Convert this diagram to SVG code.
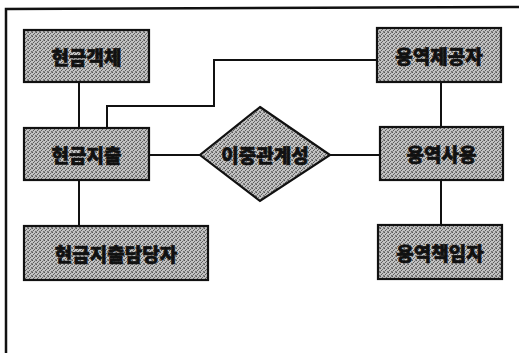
<svg xmlns="http://www.w3.org/2000/svg" width="519" height="356" viewBox="0 0 519 356">
<defs>
<pattern id="stip" width="4" height="4" patternUnits="userSpaceOnUse">
<rect width="4" height="4" fill="#c2c2c2"/>
<rect x="0" y="0" width="1" height="1" fill="#555"/>
<rect x="2" y="1" width="1" height="1" fill="#666"/>
<rect x="1" y="2" width="1" height="1" fill="#5a5a5a"/>
<rect x="3" y="3" width="1" height="1" fill="#707070"/>
<rect x="3" y="0" width="1" height="1" fill="#8a8a8a"/>
<rect x="0" y="3" width="1" height="1" fill="#8a8a8a"/>
</pattern>
<style>
.box{fill:url(#stip);stroke:#111;stroke-width:2.2}
.lbl{font-family:"Noto Sans CJK KR","Noto Sans",sans-serif;font-weight:900;font-size:19px;fill:#111;stroke:#111;stroke-width:0.6;text-anchor:middle;dominant-baseline:central}
.con{fill:none;stroke:#111;stroke-width:2}
.frame{fill:none;stroke:#111;stroke-width:2.5}
</style>
</defs>
<rect width="519" height="356" fill="#fff"/>
<polyline class="frame" points="6,353 6,9 519,7"/>
<g id="connectors">
<line class="con" x1="79" y1="82" x2="79" y2="128"/>
<line class="con" x1="79" y1="180" x2="79" y2="226"/>
<polyline class="con" points="107,128 107,106 214,106 214,60 377,60"/>
<line class="con" x1="149" y1="155" x2="200" y2="155"/>
<line class="con" x1="330" y1="155" x2="380" y2="155"/>
<line class="con" x1="441" y1="82" x2="441" y2="127"/>
<line class="con" x1="441" y1="180" x2="441" y2="225"/>
</g>
<g id="n1"><rect class="box" x="24" y="30" width="125" height="52"/><text class="lbl" x="86.5" y="56">현금객체</text></g>
<g id="n2"><rect class="box" x="24" y="128" width="125" height="52"/><text class="lbl" x="86.5" y="154">현금지출</text></g>
<g id="n3"><rect class="box" x="24" y="226" width="184" height="54"/><text class="lbl" x="116" y="253">현금지출담당자</text></g>
<g id="n4"><polygon class="box" points="260,107 330,155 260,201 200,155"/><text class="lbl" x="265" y="154">이중관계성</text></g>
<g id="n5"><rect class="box" x="377" y="28" width="124" height="54"/><text class="lbl" x="439" y="55">용역제공자</text></g>
<g id="n6"><rect class="box" x="380" y="127" width="123" height="53"/><text class="lbl" x="441.5" y="153.5">용역사용</text></g>
<g id="n7"><rect class="box" x="378" y="225" width="124" height="54"/><text class="lbl" x="440" y="252">용역책임자</text></g>
</svg>
